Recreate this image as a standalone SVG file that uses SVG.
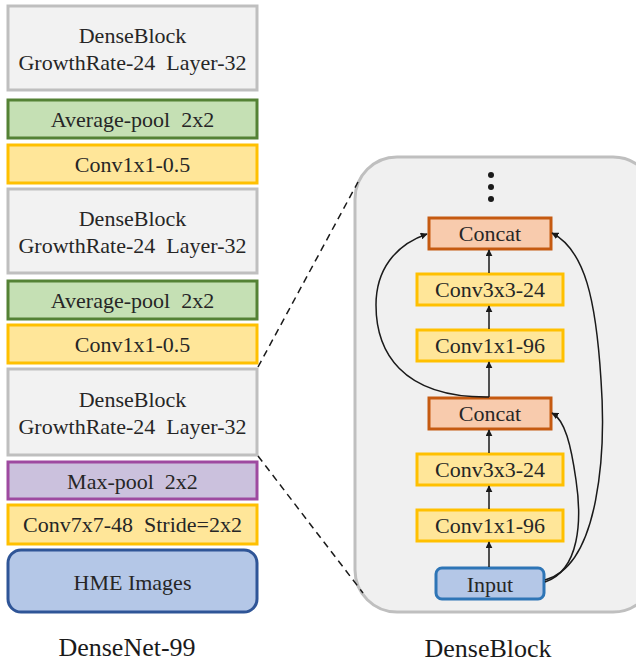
<svg xmlns="http://www.w3.org/2000/svg" width="636" height="664" viewBox="0 0 636 664">
<defs>
<marker id="ah" viewBox="0 0 10 10" refX="9" refY="5" markerWidth="7" markerHeight="7" orient="auto" markerUnits="userSpaceOnUse">
<path d="M0,0 L10,5 L0,10 z" fill="#1a1a1a"/>
</marker>
<style>
text{font-family:"Liberation Serif","Times New Roman",serif;fill:#262626;text-anchor:middle}
.t{font-size:22px}
.cap{font-size:26px;fill:#1a1a1a}
.gray{fill:#f2f2f2;stroke:#bfbfbf;stroke-width:3}
.green{fill:#c5e0b4;stroke:#548235;stroke-width:3}
.yellow{fill:#ffe699;stroke:#ffc000;stroke-width:3}
.purple{fill:#cbc1dd;stroke:#9e4aa0;stroke-width:3}
.blue{fill:#b4c7e7;stroke:#2f5597;stroke-width:3}
.blue2{fill:#b4c7e7;stroke:#2e75b6;stroke-width:3}
.orange{fill:#f8cbad;stroke:#c55a11;stroke-width:3}
.panel{fill:#f0f0f0;stroke:#bfbfbf;stroke-width:3}
.c{fill:none;stroke:#1a1a1a;stroke-width:1.5}
.d{fill:none;stroke:#1a1a1a;stroke-width:1.5;stroke-dasharray:7,5}
</style>
</defs>

<g id="panel">
<rect class="panel" x="355" y="157" width="300" height="455" rx="42"/>
</g>

<g id="left-denseblock1"><rect class="gray" x="8" y="6" width="249" height="84"/><text class="t" x="132.5" y="43">DenseBlock</text><text class="t" x="132.5" y="70" xml:space="preserve">GrowthRate-24  Layer-32</text></g>
<g id="left-avgpool1"><rect class="green" x="8" y="100" width="249" height="38"/><text class="t" x="132.5" y="127" xml:space="preserve">Average-pool  2x2</text></g>
<g id="left-conv1"><rect class="yellow" x="8" y="145" width="249" height="38"/><text class="t" x="132.5" y="172">Conv1x1-0.5</text></g>
<g id="left-denseblock2"><rect class="gray" x="8" y="189" width="249" height="84"/><text class="t" x="132.5" y="226">DenseBlock</text><text class="t" x="132.5" y="253" xml:space="preserve">GrowthRate-24  Layer-32</text></g>
<g id="left-avgpool2"><rect class="green" x="8" y="281" width="249" height="38"/><text class="t" x="132.5" y="308" xml:space="preserve">Average-pool  2x2</text></g>
<g id="left-conv2"><rect class="yellow" x="8" y="325" width="249" height="38"/><text class="t" x="132.5" y="352">Conv1x1-0.5</text></g>
<g id="left-denseblock3"><rect class="gray" x="8" y="369" width="249" height="86"/><text class="t" x="132.5" y="407">DenseBlock</text><text class="t" x="132.5" y="434" xml:space="preserve">GrowthRate-24  Layer-32</text></g>
<g id="left-maxpool"><rect class="purple" x="8" y="462" width="249" height="37"/><text class="t" x="132.5" y="489" xml:space="preserve">Max-pool  2x2</text></g>
<g id="left-conv7"><rect class="yellow" x="8" y="505" width="249" height="39"/><text class="t" x="132.5" y="532" xml:space="preserve">Conv7x7-48  Stride=2x2</text></g>
<g id="left-hme"><rect class="blue" x="8" y="550" width="249" height="62" rx="13"/><text class="t" x="132.5" y="590">HME Images</text></g>
<g id="cap-left"><text class="cap" x="127" y="656">DenseNet-99</text></g>

<g id="dots"><circle cx="491" cy="175" r="3" fill="#1a1a1a"/><circle cx="491" cy="187" r="3" fill="#1a1a1a"/><circle cx="491" cy="199" r="3" fill="#1a1a1a"/></g>
<g id="concat-top"><rect class="orange" x="429" y="218" width="122" height="31"/><text class="t" x="490" y="241">Concat</text></g>
<g id="conv3-top"><rect class="yellow" x="417" y="274" width="146" height="31"/><text class="t" x="490" y="297">Conv3x3-24</text></g>
<g id="conv1-top"><rect class="yellow" x="417" y="330" width="146" height="31"/><text class="t" x="490" y="353">Conv1x1-96</text></g>
<g id="concat-bot"><rect class="orange" x="429" y="398" width="122" height="31"/><text class="t" x="490" y="421">Concat</text></g>
<g id="conv3-bot"><rect class="yellow" x="417" y="454" width="146" height="31"/><text class="t" x="490" y="477">Conv3x3-24</text></g>
<g id="conv1-bot"><rect class="yellow" x="417" y="510" width="146" height="31"/><text class="t" x="490" y="533">Conv1x1-96</text></g>
<g id="input"><rect class="blue2" x="436" y="568" width="108" height="31" rx="6"/><text class="t" x="490" y="592">Input</text></g>
<g id="cap-right"><text class="cap" x="488" y="657">DenseBlock</text></g>

<g id="connectors">
<line class="c" x1="489" y1="567" x2="489" y2="542" marker-end="url(#ah)"/>
<line class="c" x1="489" y1="509" x2="489" y2="486" marker-end="url(#ah)"/>
<line class="c" x1="489" y1="453" x2="489" y2="430" marker-end="url(#ah)"/>
<line class="c" x1="489" y1="397" x2="489" y2="362" marker-end="url(#ah)"/>
<line class="c" x1="489" y1="329" x2="489" y2="306" marker-end="url(#ah)"/>
<line class="c" x1="489" y1="273" x2="489" y2="250" marker-end="url(#ah)"/>
<path class="c" d="M489,397 C400,398 376,350 376,305 C376,270 395,245 427,234" marker-end="url(#ah)"/>
<path class="c" d="M545,582 C580,570 582,520 576,480 C571,445 565,420 552,413" marker-end="url(#ah)"/>
<path class="c" d="M545,580 C600,565 606,450 601,380 C596,300 585,250 552,233" marker-end="url(#ah)"/>
<line class="d" x1="258" y1="367" x2="358" y2="182"/>
<line class="d" x1="258" y1="456" x2="363" y2="593"/>
</g>
</svg>
